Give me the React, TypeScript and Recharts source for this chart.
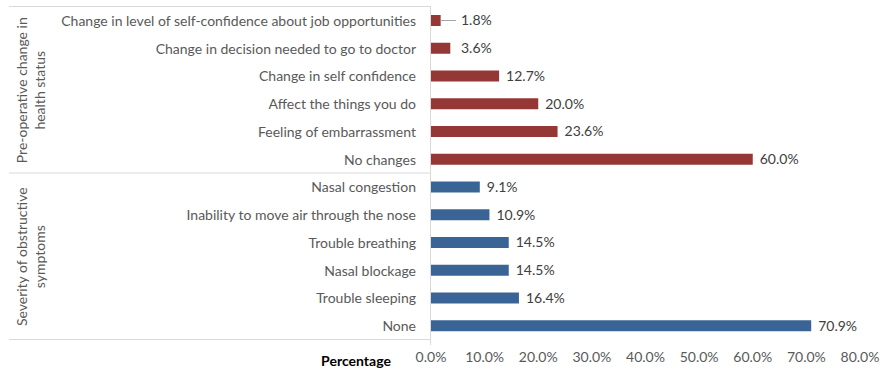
import React from 'react'
import { BarChart, Bar, XAxis, YAxis, Cell, LabelList } from 'recharts'

const healthLabels = [
  'Change in level of self-confidence about job opportunities',
  'Change in decision needed to go to doctor',
  'Change in self confidence',
  'Affect the things you do',
  'Feeling of embarrassment',
  'No changes',
]
const healthValues = [1.8, 3.6, 12.7, 20.0, 23.6, 60.0]

const symptomLabels = [
  'Nasal congestion',
  'Inability to move air through the nose',
  'Trouble breathing',
  'Nasal blockage',
  'Trouble sleeping',
  'None',
]
const symptomValues = [9.1, 10.9, 14.5, 14.5, 16.4, 70.9]

const groupNames = [
  ['Pre-operative change in', 'health status'],
  ['Severity of obstructive', 'symptoms'],
]
const groupColors = ['#953735', '#3A6496']
const xTicks = [0, 10, 20, 30, 40, 50, 60, 70, 80]
const axisTitle = 'Percentage'

const W = 889
const H = 369
const TOP = 7
const RIGHT = 29
const Y_AXIS_W = 431
const X_AXIS_H = 29
const FONT = 'Lato, "Open Sans", sans-serif'
const FS = 14

const data = [
  ...healthLabels.map((name, i) => ({ name, value: healthValues[i], group: 0 })),
  ...symptomLabels.map((name, i) => ({ name, value: symptomValues[i], group: 1 })),
]

const fmt = (v: number) => `${v.toFixed(1)}%`

function ValueLabel(props: any) {
  const { x, y, width, height, value } = props
  const barEnd = x + width
  const tx = Math.max(barEnd + 7, x + 30)
  const cy = y + height / 2
  return (
    <g>
      {tx - barEnd > 16 && (
        <line x1={barEnd} x2={tx - 5} y1={cy} y2={cy} stroke="#a6a6a6" strokeWidth={1} />
      )}
      <text x={tx} y={cy} dy="0.35em" fontSize={FS} fontFamily={FONT} fill="#404040">
        {fmt(value)}
      </text>
    </g>
  )
}

function Overlay() {
  const plotBottom = H - X_AXIS_H
  const rowH = (plotBottom - TOP) / data.length
  const bounds = [0, healthLabels.length, data.length].map((n) => TOP + n * rowH)
  const axisX = Y_AXIS_W
  return (
    <svg width={W} height={H} style={{ position: 'absolute', left: 0, top: 0, pointerEvents: 'none' }}>
      {bounds.map((by, i) => (
        <line key={i} x1={9} x2={axisX} y1={by - 0.5} y2={by - 0.5} stroke="#d9d9d9" />
      ))}
      <line x1={axisX - 0.5} x2={axisX - 0.5} y1={TOP - 1} y2={plotBottom + 5} stroke="#d9d9d9" />
      {groupNames.map((lines, gi) => {
        const cy = (bounds[gi] + bounds[gi + 1]) / 2
        return lines.map((t, li) => {
          const cx = 22 + li * 18
          return (
            <text
              key={`${gi}-${li}`}
              x={cx}
              y={cy}
              transform={`rotate(-90 ${cx} ${cy})`}
              textAnchor="middle"
              dy="0.35em"
              fontSize={FS}
              fontFamily={FONT}
              fill="#595959"
            >
              {t}
            </text>
          )
        })
      })}
      <text x={356} y={361} textAnchor="middle" dy="0.35em" fontSize={FS} fontWeight="bold" fontFamily={FONT} fill="#000">
        {axisTitle}
      </text>
    </svg>
  )
}

export default function App() {
  return (
    <div style={{ position: 'absolute', left: 0, top: 0, width: W, height: H, background: '#fff' }}>
      <BarChart
        width={W}
        height={H}
        data={data}
        layout="vertical"
        margin={{ top: TOP, right: RIGHT, left: 0, bottom: 0 }}
        barSize={11}
      >
        <XAxis
          type="number"
          domain={[0, 80]}
          ticks={xTicks}
          tickFormatter={fmt}
          axisLine={false}
          tickLine={false}
          tickSize={0}
          tickMargin={12}
          height={X_AXIS_H}
          interval={0}
          tick={{ fill: '#595959', fontSize: FS, fontFamily: FONT }}
        />
        <YAxis
          type="category"
          dataKey="name"
          width={Y_AXIS_W}
          axisLine={false}
          tickLine={false}
          tickSize={0}
          tickMargin={15}
          interval={0}
          tick={{ fill: '#595959', fontSize: FS, fontFamily: FONT }}
        />
        <Bar dataKey="value" isAnimationActive={false}>
          {data.map((d, i) => (
            <Cell key={i} fill={groupColors[d.group]} />
          ))}
          <LabelList dataKey="value" content={ValueLabel} />
        </Bar>
      </BarChart>
      <Overlay />
    </div>
  )
}
